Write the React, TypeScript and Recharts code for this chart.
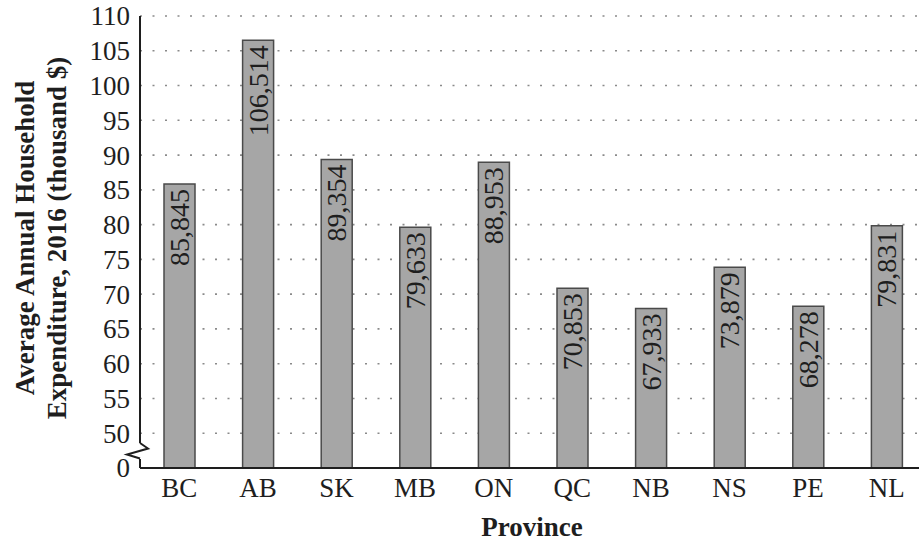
import { BarChart, Bar, XAxis, YAxis, CartesianGrid, LabelList } from "recharts";

// Data
const provinces = ["BC", "AB", "SK", "MB", "ON", "QC", "NB", "NS", "PE", "NL"];
const expenditure = [85845, 106514, 89354, 79633, 88953, 70853, 67933, 73879, 68278, 79831];
// 45000 sits where the broken axis shows "0"
const yTicks = [45000, 50000, 55000, 60000, 65000, 70000, 75000, 80000, 85000, 90000, 95000, 100000, 105000, 110000];

const data = provinces.map((p, i) => ({ province: p, value: expenditure[i] }));

const FONT = "'Liberation Serif', 'DejaVu Serif', serif";
const INK = "#1e1e1e";

const YTick = (props: any) => {
  const { x, y, payload } = props;
  const axisX = x + 10;
  const isBase = payload.value === yTicks[0];
  return (
    <g>
      {isBase && (
        <g>
          <rect x={axisX - 3} y={y - 25} width={6} height={16} fill="#fff" />
          <polyline
            points={`${axisX},${y - 25} ${axisX + 8},${y - 19.5} ${axisX - 13},${y - 13.5} ${axisX},${y - 9.5}`}
            fill="none"
            stroke={INK}
            strokeWidth={2}
          />
        </g>
      )}
      <text x={x} y={y} dy="0.35em" textAnchor="end" style={{ fontFamily: FONT }} fontSize={27} fill={INK}>
        {isBase ? "0" : payload.value / 1000}
      </text>
    </g>
  );
};

const BarValue = (props: any) => {
  const { x, y, width, value } = props;
  const cx = x + width / 2;
  const ty = y + 5;
  return (
    <text
      x={cx}
      y={ty}
      transform={`rotate(-90, ${cx}, ${ty})`}
      textAnchor="end"
      dominantBaseline="central"
      style={{ fontFamily: FONT }}
      fontSize={28}
      fill={INK}
    >
      {value.toLocaleString("en-US")}
    </text>
  );
};

const YTitle = () => (
  <g style={{ fontFamily: FONT }} fontSize={27} fontWeight="bold" fill={INK} textAnchor="middle">
    <text x={25} y={238} dominantBaseline="central" transform="rotate(-90, 25, 238)">
      Average Annual Household
    </text>
    <text x={57} y={238} dominantBaseline="central" transform="rotate(-90, 57, 238)">
      Expenditure, 2016 (thousand $)
    </text>
  </g>
);

const XTitle = () => (
  <text x={532} y={527} dominantBaseline="central" textAnchor="middle" style={{ fontFamily: FONT }} fontSize={27} fontWeight="bold" fill={INK}>
    Province
  </text>
);

export default function App() {
  return (
    <div style={{ position: "absolute", left: 0, top: 0, width: 919, height: 542, overflow: "hidden", background: "#fff" }}>
      <BarChart
        width={930}
        height={542}
        data={data}
        margin={{ top: 16, right: 4, bottom: 44, left: 80 }}
        barSize={31}
      >
        <CartesianGrid vertical={false} stroke="#8a8a8a" strokeWidth={1.6} strokeDasharray="2 10.5" horizontalValues={yTicks.slice(1)} />
        <XAxis
          dataKey="province"
          height={30}
          tickLine={false}
          tickSize={0}
          tickMargin={10}
          axisLine={{ stroke: INK, strokeWidth: 2 }}
          tick={{ fontFamily: FONT, fontSize: 27, fill: INK }}
          label={{ content: () => <XTitle /> }}
        />
        <YAxis
          type="number"
          domain={[45000, 110000]}
          ticks={yTicks}
          interval={0}
          width={60}
          tickLine={false}
          tickSize={0}
          tickMargin={10}
          axisLine={{ stroke: INK, strokeWidth: 2 }}
          tick={<YTick />}
          label={{ content: () => <YTitle /> }}
        />
        <Bar dataKey="value" fill="#a6a6a6" stroke="#4a4a4a" strokeWidth={1.5} isAnimationActive={false}>
          <LabelList dataKey="value" content={<BarValue />} />
        </Bar>
      </BarChart>
    </div>
  );
}
